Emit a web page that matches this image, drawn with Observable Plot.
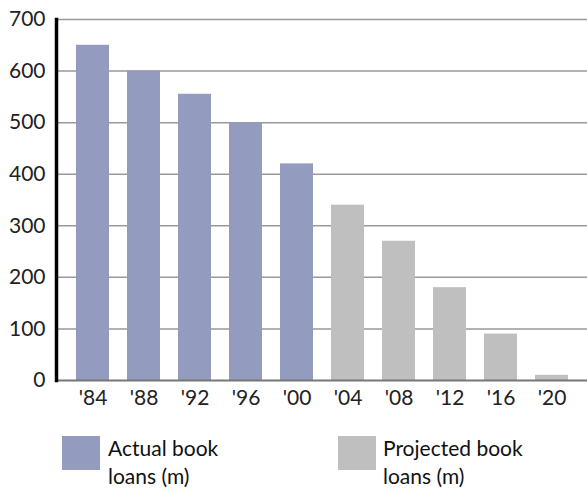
<!DOCTYPE html>
<html><head><meta charset="utf-8">
<script src="https://cdn.jsdelivr.net/npm/d3@7"></script>
<script src="https://cdn.jsdelivr.net/npm/@observablehq/plot@0.6"></script>
<style>
body{margin:0;background:#fff;font-family:Lato,sans-serif;overflow:hidden;}
#chart svg{display:block;}
#legend{position:relative;height:76px;width:587px;}
.sw{position:absolute;width:38px;height:34px;}
.lt{position:absolute;font-size:21px;line-height:28px;color:#111;white-space:nowrap;}
</style></head><body>
<div id="chart"></div>
<div id="legend"></div>
<script>
const years = ["'84","'88","'92","'96","'00","'04","'08","'12","'16","'20"];
const loans = [650,600,555,500,420,340,270,180,90,10];
const kinds = ["Actual","Actual","Actual","Actual","Actual","Projected","Projected","Projected","Projected","Projected"];
const seriesNames = ["Actual","Projected"];
const seriesLabels = ["Actual book<br>loans (m)","Projected book<br>loans (m)"];
const seriesColors = ["#939bbf","#bfbfbf"];
const yTicks = [0,100,200,300,400,500,600,700];

const data = years.map((y,i)=>({year:y, value:loans[i], kind:kinds[i]}));

const plot = Plot.plot({
  width:587, height:415,
  marginTop:19, marginBottom:35, marginLeft:56, marginRight:0,
  style:{fontFamily:"Lato, sans-serif", fontSize:"21px", color:"#222"},
  x:{domain:years, padding:0.36, label:null},
  y:{domain:[0,700], label:null},
  color:{domain:seriesNames, range:seriesColors},
  marks:[
    Plot.ruleY(yTicks.filter(d=>d>0), {stroke:"#999", strokeWidth:1.5}),
    Plot.barY(data, {x:"year", y:"value", fill:"kind"}),
    Plot.ruleY([0], {stroke:"#777", strokeWidth:2}),
    Plot.axisY({ticks:yTicks, tickSize:0, tickPadding:11, fontSize:21}),
    Plot.axisX({tickSize:0, tickPadding:10, fontSize:21}),
    Plot.frame({anchor:"left", stroke:"#000", strokeWidth:3.5})
  ]
});
document.getElementById("chart").appendChild(plot);

const lg = document.getElementById("legend");
const pos = [{sx:62, tx:108},{sx:338, tx:383}];
seriesNames.forEach((n,i)=>{
  const s=document.createElement("div"); s.className="sw";
  s.style.left=pos[i].sx+"px"; s.style.top="21px"; s.style.background=seriesColors[i];
  lg.appendChild(s);
  const t=document.createElement("div"); t.className="lt";
  t.style.left=pos[i].tx+"px"; t.style.top="19px"; t.innerHTML=seriesLabels[i];
  lg.appendChild(t);
});
</script></body></html>
